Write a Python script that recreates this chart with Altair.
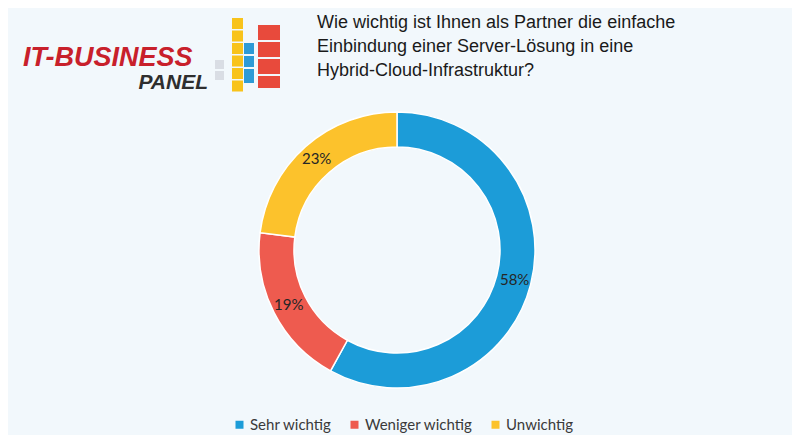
import altair as alt
import pandas as pd

# Chart data
categories = ["Sehr wichtig", "Weniger wichtig", "Unwichtig"]
values = [58, 19, 23]
labels = ["58%", "19%", "23%"]
colors = ["#1C9CD8", "#EE5B4F", "#FCC22C"]

title_lines = [
    "Wie wichtig ist Ihnen als Partner die einfache",
    "Einbindung einer Server-Lösung in eine",
    "Hybrid-Cloud-Infrastruktur?",
]

# Decorative logo blocks (pixel boxes, not data)
logo_x1 = [207, 207, 224, 224, 224, 224, 224, 224, 236, 236, 236, 250, 250, 250, 250]
logo_x2 = [216, 216, 235, 235, 235, 235, 235, 235, 246, 246, 246, 272, 272, 272, 272]
logo_y1 = [52, 63, 10, 22.5, 35, 47.5, 60, 72.5, 35, 48, 61, 17, 34, 51, 68]
logo_y2 = [61, 72, 21, 33.5, 46, 58.5, 71, 83.5, 46, 59, 75, 32, 49, 66, 80]
logo_c = ["#D9DDE4"] * 2 + ["#F8C31B"] * 6 + ["#2E9BD6"] * 3 + ["#E84A3C"] * 4

df = pd.DataFrame({
    "cat": categories,
    "val": values,
    "label": labels,
    "order": list(range(len(categories))),
})

CX, CY = 389, 242
R_OUT, R_IN = 138, 103

color_scale = alt.Scale(domain=categories, range=colors)

arcs = alt.Chart(df).mark_arc(
    radius=R_OUT, radius2=R_IN, stroke="white", strokeWidth=1.5
).encode(
    theta=alt.Theta("val:Q", stack=True),
    order=alt.Order("order:Q"),
    color=alt.Color(
        "cat:N",
        scale=color_scale,
        sort=categories,
        legend=alt.Legend(
            title=None,
            orient="none",
            direction="horizontal",
            legendX=224,
            legendY=409,
            symbolType="square",
            symbolSize=64,
            symbolStrokeWidth=0,
            labelFont="Lato",
            labelFontSize=15,
            labelColor="#3A3A3A",
            columnPadding=15,
            labelOffset=3,
            padding=0,
        ),
    ),
    x=alt.value(CX),
    y=alt.value(CY),
)

text = alt.Chart(df).mark_text(
    radius=(R_OUT + R_IN) / 2 + 1, font="Lato", fontSize=15, color="#262626"
).encode(
    theta=alt.Theta("val:Q", stack=True),
    order=alt.Order("order:Q"),
    text="label:N",
    x=alt.value(CX),
    y=alt.value(CY),
)

title = alt.Chart(pd.DataFrame({"t": [0]})).mark_text(
    align="left", baseline="alphabetic", font="Liberation Sans", fontSize=18,
    lineHeight=24, color="#1A1A1A",
).encode(
    x=alt.value(309), y=alt.value(20), text=alt.value(title_lines)
)

logo_df = pd.DataFrame({"x": logo_x1, "x2": logo_x2, "y": logo_y1, "y2": logo_y2, "c": logo_c})
logo_blocks = alt.Chart(logo_df).mark_rect().encode(
    x=alt.X("x:Q", scale=None, axis=None),
    x2="x2:Q",
    y=alt.Y("y:Q", scale=None, axis=None),
    y2="y2:Q",
    fill=alt.Fill("c:N", scale=None, legend=None),
)

logo_it = alt.Chart(pd.DataFrame({"t": [0]})).mark_text(
    align="left", baseline="alphabetic", font="Liberation Sans",
    fontSize=27, fontWeight="bold", fontStyle="italic", color="#C8202B",
).encode(x=alt.value(15), y=alt.value(58), text=alt.value("IT-BUSINESS"))

logo_panel = alt.Chart(pd.DataFrame({"t": [0]})).mark_text(
    align="right", baseline="alphabetic", font="Liberation Sans",
    fontSize=21, fontWeight="bold", fontStyle="italic", color="#2E2E2E",
).encode(x=alt.value(200), y=alt.value(81), text=alt.value("PANEL"))

chart = alt.layer(logo_blocks, logo_it, logo_panel, title, arcs, text).resolve_scale(
    color="independent", fill="independent"
).properties(
    width=784, height=427,
    autosize=alt.AutoSizeParams(type="none"),
    padding=0,
    background="#F2F8FC",
).configure_view(stroke=None)

chart.save("out.html", embed_options={"renderer": "svg", "actions": False})
